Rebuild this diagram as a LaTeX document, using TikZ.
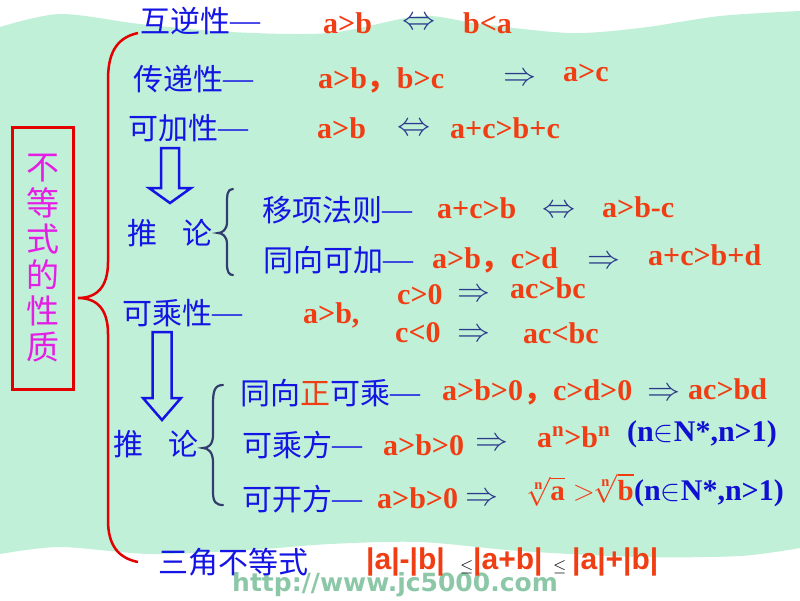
\RequirePackage{fix-cm}
\documentclass[tikz,border=0pt]{standalone}
\usepackage{amsmath}
\usepackage{fontspec}
\setmainfont{Liberation Serif}
\newfontfamily\cjk{Noto Sans CJK SC}
\newfontfamily\arialfont{Liberation Sans}
\newfontfamily\markfont{DejaVu Sans}
\usetikzlibrary{positioning}
\definecolor{bggreen}{RGB}{193,240,216}
\definecolor{propblue}{RGB}{20,20,228}
\definecolor{exprred}{RGB}{240,62,20}
\definecolor{impblue}{RGB}{42,58,140}
\definecolor{condblue}{RGB}{16,16,210}
\definecolor{bracered}{RGB}{226,0,0}
\definecolor{braceslate}{RGB}{50,60,110}
\definecolor{titlemag}{RGB}{228,30,228}
\definecolor{markgreen}{RGB}{140,200,168}
\newcommand{\propdash}{{\rmfamily\raisebox{2pt}{—}}}
\tikzstyle{prop} = [font=\cjk\fontsize{30}{36}\selectfont, text=propblue, inner sep=0pt, anchor=west]
\tikzstyle{expr} = [font=\bfseries\fontsize{30}{36}\selectfont, text=exprred, inner sep=0pt, anchor=west]
\tikzstyle{imp} = [font=\fontsize{33}{36}\selectfont, text=impblue, inner sep=0pt, anchor=west, yshift=-2pt]
\tikzstyle{cond} = [font=\bfseries\fontsize{30}{36}\selectfont, text=condblue, inner sep=0pt, anchor=west]
\tikzstyle{absval} = [font=\arialfont\bfseries\fontsize{30}{36}\selectfont, text=exprred, inner sep=0pt, anchor=west]
\tikzstyle{leqsign} = [font=\fontsize{17}{20}\selectfont, text=black, inner sep=0pt, anchor=west]
\tikzstyle{hollow} = [draw=propblue, line width=2.5pt, line join=miter]
\tikzstyle{smallbrace} = [draw=braceslate, line width=2.2pt, line cap=round]
\tikzstyle{bigbrace} = [draw=bracered, line width=2.5pt]
\tikzstyle{titlebox} = [draw=bracered, line width=3pt, minimum width=61pt, minimum height=262pt,
    inner sep=0pt, align=center, text=titlemag, font=\cjk\fontsize{33}{36}\selectfont]

\begin{document}
\begin{tikzpicture}[x=1pt,y=-1pt]
\useasboundingbox (0,0) rectangle (800,600);

% background with wavy edges
\fill[white] (0,0) rectangle (800,600);
\fill[bggreen] plot[smooth] coordinates {(0,27) (60,14) (140,24) (230,32) (330,33) (420,16) (480,24) (570,33) (640,28) (720,16) (800,11)}
    -- (800,548)
    -- plot[smooth] coordinates {(800,548) (740,556) (640,557) (520,551) (420,542) (330,544) (250,550) (150,554) (60,547) (0,554)}
    -- cycle;
\node[font=\markfont\bfseries\fontsize{25}{28}\selectfont, text=markgreen, inner sep=0pt, anchor=west] (mark) at (232,585) {http://www.jc5000.com};

% title box and big brace
\node[titlebox] (title) at (42.5,258.5) {不\\等\\式\\的\\性\\质};
\draw[bigbrace] (138,33) .. controls (115,38) and (108,55) .. (108,80) -- (108,262)
    .. controls (108,288) and (96,298) .. (78,298)
    .. controls (96,298) and (108,308) .. (108,334) -- (108,520)
    .. controls (108,545) and (118,558) .. (138,562);

% basic properties
\node[prop] (hunixing) at (140,21) {互逆性\propdash};
\node[expr] (e1) at (323,23) {a>b};
\node[imp] (i1) at (402,21) {$\Leftrightarrow$};
\node[expr] (e1b) at (463,23) {b<a};

\node[prop] (chuandi) at (133,79) {传递性\propdash};
\node[expr] (e2) at (318,80) {a>b{\cjk ，}b>c};
\node[imp] (i2) at (503,77) {$\Rightarrow$};
\node[expr] (e2b) at (563,73) {a>c};

\node[prop] (kejia) at (128,128) {可加性\propdash};
\node[expr] (e3) at (317,128) {a>b};
\node[imp] (i3) at (397,127) {$\Leftrightarrow$};
\node[expr] (e3b) at (450,128) {a+c>b+c};

\draw[hollow] (161,148) -- (179,148) -- (179,188) -- (191,188) -- (170,203) -- (149,188) -- (161,188) -- cycle;

% first corollary
\node[prop] (tuilun1) at (127,233) {推\hspace{25pt}论};
\draw[smallbrace] (233,189) .. controls (227,189) and (227,195) .. (227,205) -- (227,222)
    .. controls (227,230) and (222,233) .. (218,233)
    .. controls (222,233) and (227,236) .. (227,244) -- (227,264)
    .. controls (227,272) and (229,275) .. (233,275);
\node[prop] (yixiang) at (262,210) {移项法则\propdash};
\node[expr] (e4) at (437,208) {a+c>b};
\node[imp] (i4) at (542,209) {$\Leftrightarrow$};
\node[expr] (e4b) at (602,207) {a>b-c};

\node[prop] (tongxiang) at (263,260) {同向可加\propdash};
\node[expr] (e5) at (432,260) {a>b{\cjk ，}c>d};
\node[imp] (i5) at (587,260) {$\Rightarrow$};
\node[expr] (e5b) at (648,255) {a+c>b+d};

% multiplication
\node[prop] (kecheng) at (122,313) {可乘性\propdash};
\node[expr] (e6) at (303,315) {a>b,};
\node[expr] (e6a) at (397,295) {c>0};
\node[imp] (i6a) at (457,293) {$\Rightarrow$};
\node[expr] (e6b) at (510,288) {ac>bc};
\node[expr] (e6c) at (395,333) {c<0};
\node[imp] (i6c) at (457,333) {$\Rightarrow$};
\node[expr] (e6d) at (523,333) {ac<bc};

\draw[hollow] (152.5,332) -- (171.5,332) -- (171.5,398) -- (181,398) -- (162,420) -- (143,398) -- (152.5,398) -- cycle;

% second corollary
\node[prop] (tuilun2) at (113,444) {推\hspace{25pt}论};
\draw[smallbrace] (223,385) .. controls (214,385) and (213,392) .. (213,405) -- (213,435)
    .. controls (213,445) and (208,448) .. (203,448)
    .. controls (208,448) and (213,452) .. (213,462) -- (213,492)
    .. controls (213,502) and (216,505) .. (223,505);
\node[prop] (zheng) at (240,393) {同向{\color{exprred}正}可乘\propdash};
\node[expr] (e7) at (442,392) {a>b>0{\cjk ，}c>d>0};
\node[imp] (i7) at (647,392) {$\Rightarrow$};
\node[expr] (e7b) at (688,389) {ac>bd};

\node[prop] (chengfang) at (242,445) {可乘方\propdash};
\node[expr] (e8) at (383,445) {a>b>0};
\node[imp] (i8) at (475,442) {$\Rightarrow$};
\node[expr] (e8b) at (537,437) {a\textsuperscript{n}>b\textsuperscript{n}};
\node[cond] (c8) at (627,434) {(n$\in$N*,n>1)};

\node[prop] (kaifang) at (242,499) {可开方\propdash};
\node[expr] (e9) at (377,498) {a>b>0};
\node[imp] (i9) at (465,497) {$\Rightarrow$};
\node[expr, font=\bfseries\fontsize{29}{32}\selectfont] (e9b) at (526,490) {$\sqrt[\textbf{n}]{\textbf{a}}\mathrel{>}\!\!\sqrt[\textbf{n}]{\textbf{b}}$};
\node[cond] (c9) at (634,493) {(n$\in$N*,n>1)};

% triangle inequality
\node[prop] (sanjiao) at (158,562) {三角不等式};
\node[absval] (a1) at (366,562) {|a|-|b|};
\node[leqsign] (l1) at (460,567) {$\leq$};
\node[absval] (a2) at (473,562) {|a+b|};
\node[leqsign] (l2) at (553,567) {$\leq$};
\node[absval] (a3) at (572,562) {|a|+|b|};

\end{tikzpicture}
\end{document}
